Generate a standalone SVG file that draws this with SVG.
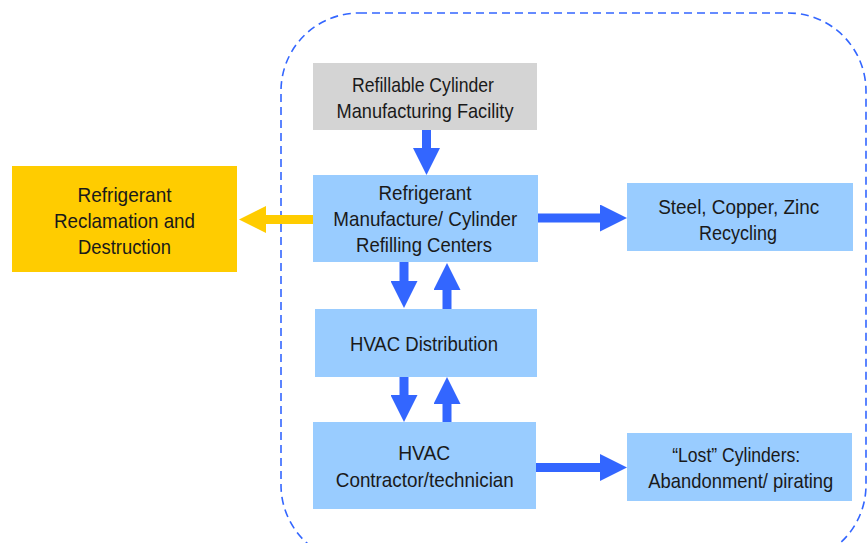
<svg xmlns="http://www.w3.org/2000/svg" width="867" height="543" viewBox="0 0 867 543">
  <style>
    .box-blue { fill: #99CCFF; }
    .box-gray { fill: #D4D4D4; }
    .box-yellow { fill: #FFCC00; }
    .label { font-family: "Liberation Sans", Arial, sans-serif; font-size: 21px; fill: #1a1a1a; text-anchor: middle; }
    .flow { stroke: #3366FF; stroke-width: 9; fill: none; marker-end: url(#head-blue); }
    .flow-out { stroke: #FFCC00; stroke-width: 9; fill: none; marker-end: url(#head-yellow); }
    .boundary { fill: none; stroke: #3366FF; stroke-width: 1.6; stroke-dasharray: 8 5; }
  </style>
  <defs>
    <marker id="head-blue" viewBox="0 0 3 3" refX="0" refY="1.5" markerWidth="3" markerHeight="3" markerUnits="strokeWidth" orient="auto">
      <path d="M0,0 L3,1.5 L0,3 z" fill="#3366FF"/>
    </marker>
    <marker id="head-yellow" viewBox="0 0 3 3" refX="0" refY="1.5" markerWidth="3" markerHeight="3" markerUnits="strokeWidth" orient="auto">
      <path d="M0,0 L3,1.5 L0,3 z" fill="#FFCC00"/>
    </marker>
  </defs>

  <!-- system boundary -->
  <rect class="boundary" x="281" y="13" width="585" height="550" rx="78" ry="78"/>

  <g id="cylinder-manufacturing">
    <rect class="box-gray" x="313" y="63" width="224" height="67"/>
    <text class="label" x="423" y="92" textLength="142" lengthAdjust="spacingAndGlyphs">Refillable Cylinder</text>
    <text class="label" x="425" y="118" textLength="177" lengthAdjust="spacingAndGlyphs">Manufacturing Facility</text>
  </g>

  <g id="reclamation">
    <rect class="box-yellow" x="12" y="166" width="225" height="106"/>
    <text class="label" x="124.5" y="201.5" textLength="94" lengthAdjust="spacingAndGlyphs">Refrigerant</text>
    <text class="label" x="124.5" y="228" textLength="141" lengthAdjust="spacingAndGlyphs">Reclamation and</text>
    <text class="label" x="124.5" y="253.5" textLength="93" lengthAdjust="spacingAndGlyphs">Destruction</text>
  </g>

  <g id="refilling-centers">
    <rect class="box-blue" x="313" y="175" width="225" height="87"/>
    <text class="label" x="425" y="199.5" textLength="93" lengthAdjust="spacingAndGlyphs">Refrigerant</text>
    <text class="label" x="425.3" y="226" textLength="184" lengthAdjust="spacingAndGlyphs">Manufacture/ Cylinder</text>
    <text class="label" x="424" y="252" textLength="136" lengthAdjust="spacingAndGlyphs">Refilling Centers</text>
  </g>

  <g id="metal-recycling">
    <rect class="box-blue" x="627" y="183" width="226" height="68"/>
    <text class="label" x="738.7" y="214" textLength="161" lengthAdjust="spacingAndGlyphs">Steel, Copper, Zinc</text>
    <text class="label" x="738" y="240" textLength="78" lengthAdjust="spacingAndGlyphs">Recycling</text>
  </g>

  <g id="hvac-distribution">
    <rect class="box-blue" x="315" y="309" width="222" height="68"/>
    <text class="label" x="424" y="351" textLength="148" lengthAdjust="spacingAndGlyphs">HVAC Distribution</text>
  </g>

  <g id="hvac-contractor">
    <rect class="box-blue" x="313" y="422" width="223" height="87"/>
    <text class="label" x="424.2" y="460" textLength="52" lengthAdjust="spacingAndGlyphs">HVAC</text>
    <text class="label" x="424.8" y="486.5" textLength="178" lengthAdjust="spacingAndGlyphs">Contractor/technician</text>
  </g>

  <g id="lost-cylinders">
    <rect class="box-blue" x="627" y="433" width="225" height="68"/>
    <text class="label" x="736.2" y="461.5" textLength="128" lengthAdjust="spacingAndGlyphs">“Lost” Cylinders:</text>
    <text class="label" x="740.8" y="488" textLength="185" lengthAdjust="spacingAndGlyphs">Abandonment/ pirating</text>
  </g>

  <g id="connectors">
    <line class="flow" x1="426.5" y1="130" x2="426.5" y2="148"/>
    <line class="flow-out" x1="313" y1="219.5" x2="266" y2="219.5"/>
    <line class="flow" x1="538" y1="218" x2="600" y2="218"/>
    <line class="flow" x1="404" y1="262" x2="404" y2="281"/>
    <line class="flow" x1="447" y1="309" x2="447" y2="290"/>
    <line class="flow" x1="404" y1="377" x2="404" y2="395"/>
    <line class="flow" x1="447" y1="422" x2="447" y2="404"/>
    <line class="flow" x1="536" y1="467.5" x2="600" y2="467.5"/>
  </g>
</svg>
